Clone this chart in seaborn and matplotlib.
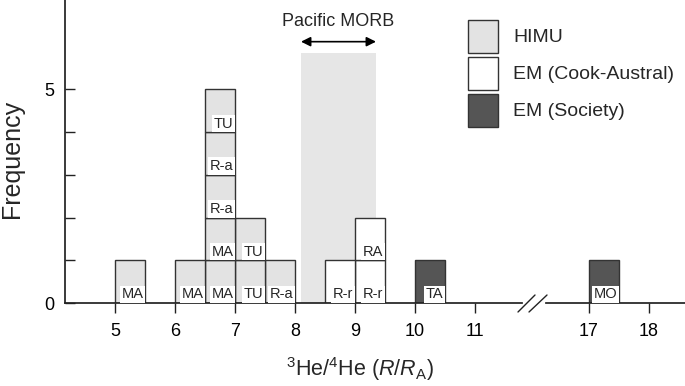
import matplotlib
matplotlib.use("Agg")
import matplotlib.pyplot as plt
from matplotlib.patches import Patch
from matplotlib.lines import Line2D
import pandas as pd
import numpy as np
import seaborn as sns

sns.set_theme(style="ticks")
plt.rcParams["font.family"] = ["Liberation Sans", "DejaVu Sans"]
plt.rcParams["mathtext.fontset"] = "custom"
plt.rcParams["mathtext.rm"] = "Liberation Sans"
plt.rcParams["mathtext.it"] = "Liberation Sans:italic"

# 3He/4He (R/RA) of each sample, island code and mantle group
ratios = [5.25, 6.25, 6.70, 6.75, 6.60, 6.80, 6.90, 7.20, 7.30, 7.75,
          8.75, 9.20, 9.30, 10.25, 17.25]
islands = ["MA", "MA", "MA", "MA", "R-a", "R-a", "TU", "TU", "TU", "R-a",
           "R-r", "R-r", "RA", "TA", "MO"]
groups = ["HIMU"] * 10 + ["EM (Cook-Austral)"] * 3 + ["EM (Society)"] * 2

group_order = ["HIMU", "EM (Cook-Austral)", "EM (Society)"]
group_colors = {"HIMU": "#e3e3e3", "EM (Cook-Austral)": "#ffffff", "EM (Society)": "#555555"}

morb_range = (8.1, 9.35)   # Pacific MORB
morb_top = 5.85
binwidth = 0.5

df = pd.DataFrame({"ratio": ratios, "island": islands, "group": groups})
df["sample"] = [f"s{i:02d}" for i in range(len(df))]
df["bin_right"] = (np.floor(df["ratio"] / binwidth) + 1) * binwidth
df["level"] = df.groupby("bin_right").cumcount()
palette = {s: group_colors[g] for s, g in zip(df["sample"], df["group"])}

edge = "#333333"
fig = plt.figure(figsize=(6.85, 3.86), dpi=100)
ax = fig.add_axes([65 / 685, 1 - 303 / 386, 457 / 685, 303 / 386])
ax2 = fig.add_axes([546 / 685, 1 - 303 / 386, 139 / 685, 303 / 386])

# Pacific MORB range
ax.fill_between(morb_range, 0, morb_top, color="#e6e6e6", lw=0, zorder=0)
ax.annotate("", xy=(morb_range[0], 6.12), xytext=(morb_range[1], 6.12),
            arrowprops=dict(arrowstyle="<|-|>", color="black", lw=1.2,
                            mutation_scale=14, shrinkA=0, shrinkB=0))
ax.text(np.mean(morb_range), 6.6, "Pacific MORB", ha="center", va="center", fontsize=13)

left = df[df["ratio"] < 12]
right = df[df["ratio"] >= 12]

for a, d, rng in [(ax, left, (5, 10.5)), (ax2, right, (17, 17.5))]:
    sns.histplot(data=d, x="ratio", hue="sample", multiple="stack", binwidth=binwidth,
                 binrange=rng, palette=palette, edgecolor=edge, linewidth=1,
                 alpha=1, legend=False, ax=a, zorder=2)
    for p in list(a.patches):
        if p.get_height() == 0:
            p.remove()
    for _, r in d.iterrows():
        a.annotate(r["island"], xy=(r["bin_right"], r["level"]), xytext=(-1.2, 1.2),
                   textcoords="offset points", ha="right", va="bottom", fontsize=10.5,
                   zorder=3, bbox=dict(boxstyle="square,pad=0.12", fc="white", ec="none"))

ymax = 303 / 42.7
ax.set_xlim(5 - 50 / 60, 5 - 50 / 60 + 457 / 60)
ax2.set_xlim(17 - 43 / 60, 17 - 43 / 60 + 139 / 60)
for a in (ax, ax2):
    a.set_ylim(0, ymax)
    a.set_ylabel("")
    a.set_xlabel("")
    a.spines["top"].set_visible(False)
    a.spines["right"].set_visible(False)
    a.spines["bottom"].set_color("#222222")
    a.spines["left"].set_color("#222222")
    a.tick_params(axis="x", direction="out", length=7, width=1, colors="#222222",
                  labelcolor="black", labelsize=13, pad=7.5)

ax.set_xticks([5, 6, 7, 8, 9, 10, 11])
ax2.set_xticks([17, 18])
ax.set_yticks([0, 1, 2, 3, 4, 5])
ax.set_yticklabels(["0", "", "", "", "", "5"])
ax.tick_params(axis="y", direction="in", length=7, width=1, colors="#222222",
               labelcolor="black", labelsize=13, pad=8)
ax2.spines["left"].set_visible(False)
ax2.set_yticks([])

ax.set_ylabel("Frequency", fontsize=18)
ax.yaxis.set_label_coords(-0.09, 0.475)
ax.set_xlabel(r"$^{3}$He/$^{4}$He ($R$/$R_{\mathrm{A}}$)", fontsize=15.5, va="center")
ax.xaxis.set_label_coords((360 - 65) / 457, (303 - 369) / 303)

# axis break marks
for x0, x1 in [(518, 535), (529, 547)]:
    fig.add_artist(Line2D([x0 / 685, x1 / 685], [1 - 312 / 386, 1 - 295 / 386],
                          color="#222222", lw=1))

handles = [Patch(facecolor=group_colors[g], edgecolor=edge, linewidth=1) for g in group_order]
fig.legend(handles, group_order, loc="upper left", bbox_to_anchor=(468 / 685, 1 - 20 / 386),
           frameon=False, borderpad=0, borderaxespad=0, handlelength=1.55, handleheight=2.2,
           labelspacing=0.23, handletextpad=0.78, fontsize=14)

fig.savefig("out.png", dpi=100)
